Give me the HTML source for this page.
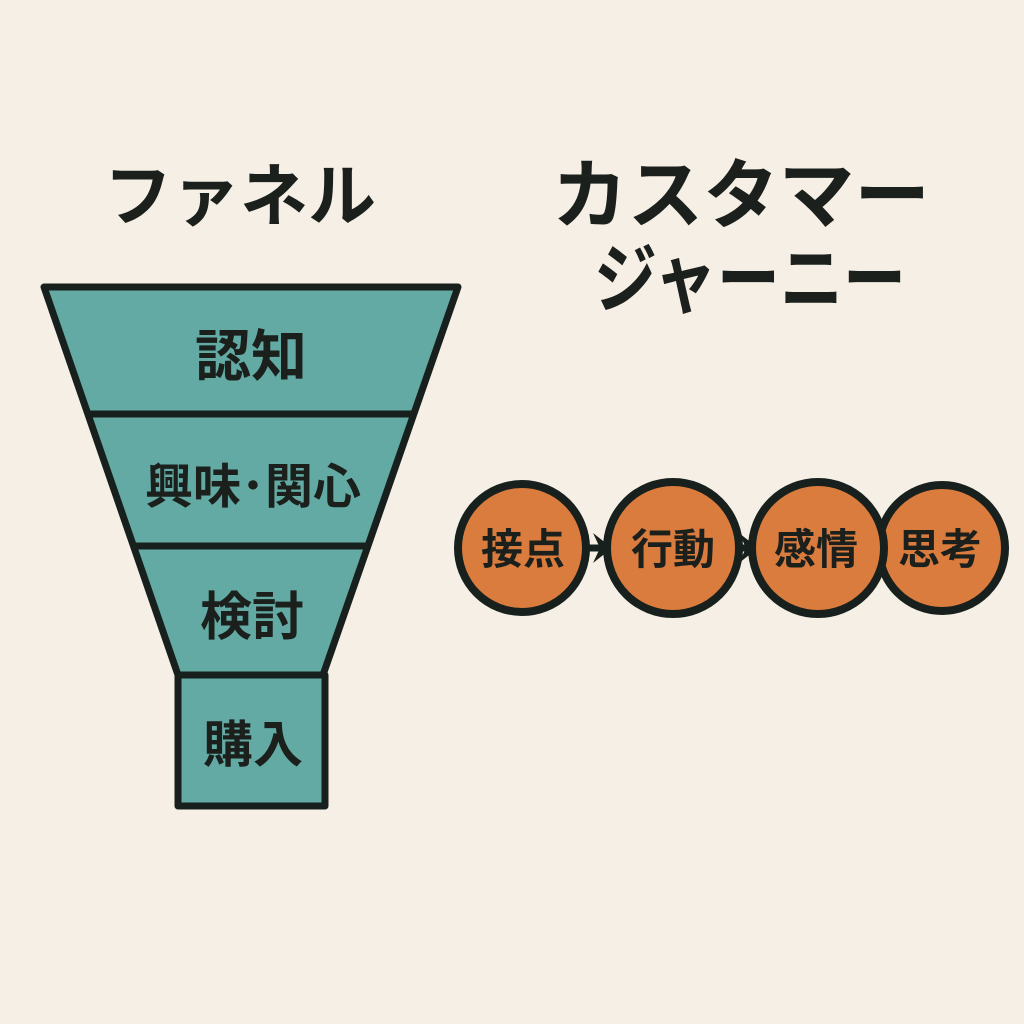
<!DOCTYPE html>
<html><head><meta charset="utf-8"><style>
html,body{margin:0;padding:0;background:#f6efe5;}
svg{display:block}
text{font-family:"Liberation Sans","Noto Sans CJK JP",sans-serif;font-weight:700;fill:#1b201d;text-anchor:middle;}
</style></head><body>
<svg width="1024" height="1024" viewBox="0 0 1024 1024">
<rect width="1024" height="1024" fill="#f6efe5"/>
<text x="240" y="220" font-size="68">ファネル</text>
<text x="741" y="222" font-size="76" textLength="378" lengthAdjust="spacingAndGlyphs">カスタマー</text>
<text x="750" y="306" font-size="76" textLength="312" lengthAdjust="spacingAndGlyphs">ジャーニー</text>
<g stroke="#18201d" stroke-width="7" stroke-linejoin="round" fill="#62aaa3">
<polygon points="44,287 458,287 323,675 178,675"/>
<line x1="89" y1="414" x2="412" y2="414"/>
<line x1="134" y1="546" x2="366" y2="546"/>
<rect x="178" y="675" width="147" height="131"/>
</g>
<text x="251" y="376" font-size="56">認知</text>
<text x="253" y="503" font-size="48">興味･関心</text>
<text x="252" y="635" font-size="52">検討</text>
<text x="253" y="762" font-size="50">購入</text>
<g stroke="#18201d" stroke-width="7">
<line x1="588" y1="548" x2="608" y2="548"/>
<line x1="740" y1="548" x2="756" y2="548"/>
</g>
<g fill="#18201d">
<polygon points="593,533 612,548 593,563 600,548"/>
<polygon points="739,533 758,548 739,563 746,548"/>
</g>
<g stroke="#18201d" stroke-width="8" fill="#d97c3d">
<circle cx="522" cy="548" r="64"/>
<circle cx="942" cy="548" r="63"/>
<circle cx="818" cy="548" r="66"/>
<circle cx="673" cy="548" r="66"/>
</g>
<text x="523" y="564" font-size="42">接点</text>
<text x="673" y="564" font-size="42">行動</text>
<text x="816" y="564" font-size="42">感情</text>
<text x="940" y="564" font-size="42">思考</text>
</svg>
</body></html>
